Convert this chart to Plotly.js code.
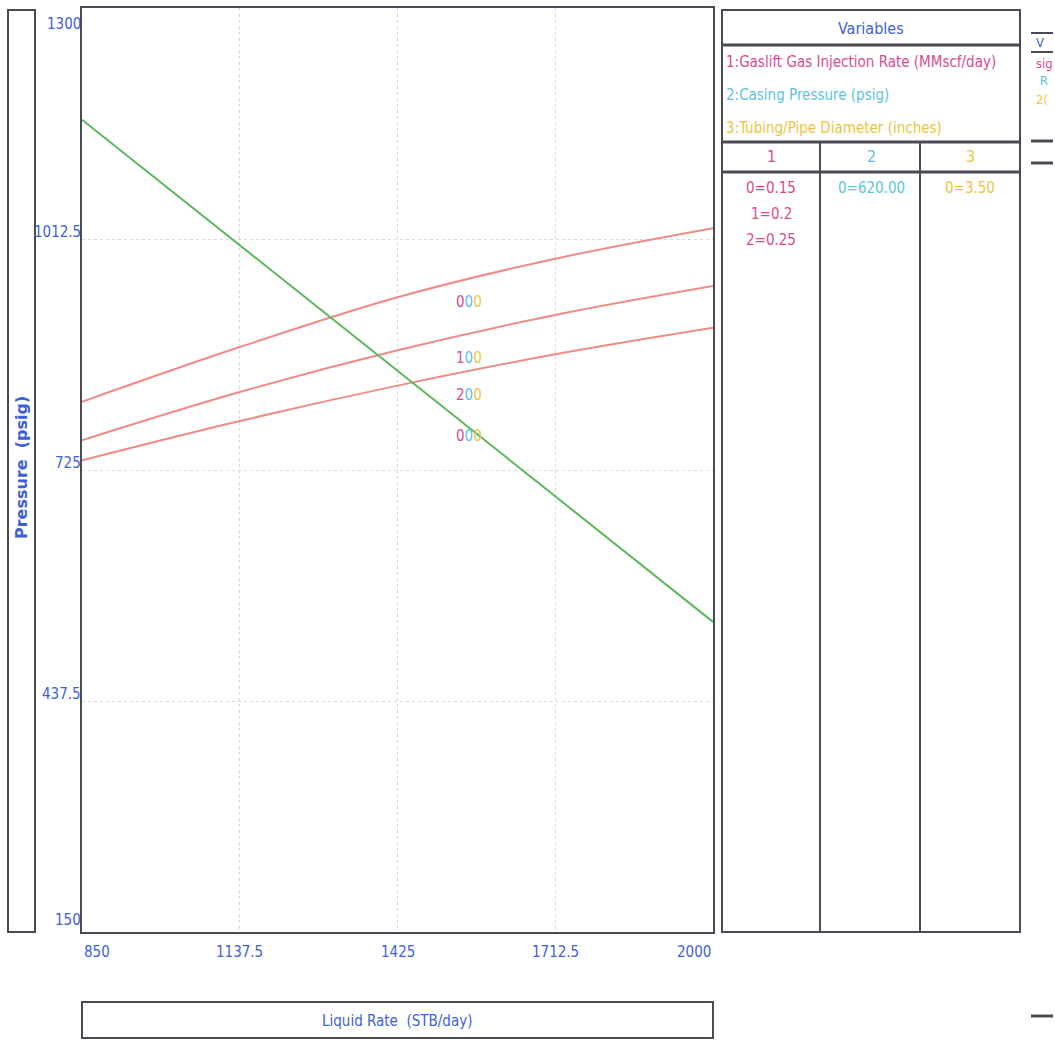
<!DOCTYPE html>
<html>
<head>
<meta charset="utf-8">
<script src="https://cdn.plot.ly/plotly-3.0.1.min.js"></script>
<style>html,body{margin:0;padding:0;background:#fff;}#chart{width:1055px;height:1041px;}</style>
</head>
<body>
<div id="chart"></div>
<script>
// ---- data ----
const liquidRate = [850, 1137.5, 1425, 1712.5, 2000];
const iprPressure = [1161, 1005, 849, 692, 536];
const gasInj015 = [810, 878, 940, 988, 1026];
const gasInj020 = [762, 822, 874, 918, 954];
const gasInj025 = [737, 786, 830, 869, 902];
const xTickVals = [850, 1137.5, 1425, 1712.5, 2000];
const xTickText = ['850', '1137.5', '1425', '1712.5', '2000'];
const yTickVals = [150, 437.5, 725, 1012.5, 1300];
const yTickText = ['150', '437.5', '725', '1012.5', '1300'];
const curveLabels = ['000', '100', '200', '000'];
const variableNames = ['1:Gaslift Gas Injection Rate (MMscf/day)', '2:Casing Pressure (psig)', '3:Tubing/Pipe Diameter (inches)'];
const columnHeads = ['1', '2', '3'];
const col1Values = ['0=0.15', '1=0.2', '2=0.25'];
const col2Values = ['0=620.00'];
const col3Values = ['0=3.50'];

// ---- styles ----
const FONT = 'Liberation Sans Narrow, DejaVu Sans Condensed, Liberation Sans, sans-serif';
const BLUE = '#3d5fdc';
const MAG = '#d94a94';
const CYAN = '#5cc3e6';
const YEL = '#e9c53e';
const FRAME = '#4a4a55';
const colColors = [MAG, CYAN, YEL];

// plot area pixels
const L = 82, R = 713, T = 8, B = 932;
const px = x => (x - L) / (R - L);
const py = y => (B - y) / (B - T);

function interp(xs, ys, x) {
  for (let i = 0; i < xs.length - 1; i++) {
    if (x >= xs[i] && x <= xs[i + 1]) {
      const t = (x - xs[i]) / (xs[i + 1] - xs[i]);
      return ys[i] + t * (ys[i + 1] - ys[i]);
    }
  }
  return ys[ys.length - 1];
}

const traces = [
  {x: liquidRate, y: gasInj015, mode: 'lines', line: {color: '#f08a86', width: 2, shape: 'spline'}, hoverinfo: 'skip'},
  {x: liquidRate, y: gasInj020, mode: 'lines', line: {color: '#f08a86', width: 2, shape: 'spline'}, hoverinfo: 'skip'},
  {x: liquidRate, y: gasInj025, mode: 'lines', line: {color: '#f08a86', width: 2, shape: 'spline'}, hoverinfo: 'skip'},
  {x: liquidRate, y: iprPressure, mode: 'lines', line: {color: '#5cb85c', width: 2}, hoverinfo: 'skip'}
];

function colored(s) {
  return s.split('').map((c, i) => `<span style="color:${colColors[i % 3]}">${c}</span>`).join('');
}

const annotations = [];
function pa(x, y, text, opts) {
  annotations.push(Object.assign({x: px(x), y: py(y), xref: 'paper', yref: 'paper', text: text, showarrow: false,
    xanchor: 'center', yanchor: 'middle', font: {family: FONT, size: 15, color: BLUE}}, opts || {}));
}

// curve labels
const labelX = 1556;
const labelCurves = [gasInj015, gasInj020, gasInj025, iprPressure];
const labelShift = [-22, -24, -24, -8];
labelCurves.forEach((c, i) => {
  annotations.push({x: labelX, y: interp(liquidRate, c, labelX), xref: 'x', yref: 'y', yshift: labelShift[i],
    text: colored(curveLabels[i]), showarrow: false, font: {family: FONT, size: 15}, xanchor: 'center', yanchor: 'middle'});
});

// y tick labels (centred a little above their grid lines; end labels inside the range)
yTickVals.forEach((v, i) => {
  const last = i === yTickVals.length - 1;
  const shift = i === 0 ? 12 : (last ? -16 : 7);
  annotations.push({x: 0, y: v, xref: 'paper', yref: 'y', text: yTickText[i], showarrow: false,
    xanchor: 'right', yanchor: 'middle', xshift: 1, yshift: shift,
    font: {family: FONT, size: 15, color: BLUE}});
});
// x tick labels
xTickVals.forEach((v, i) => {
  const anc = i === 0 ? 'left' : (i === xTickVals.length - 1 ? 'right' : 'center');
  annotations.push({x: v, y: py(952), xref: 'x', yref: 'paper', text: xTickText[i], showarrow: false,
    xanchor: anc, yanchor: 'middle', font: {family: FONT, size: 15, color: BLUE}});
});

// axis titles
pa(21, 468, '<b>Pressure  (psig)</b>', {textangle: -90, font: {family: 'DejaVu Sans, sans-serif', size: 16, color: BLUE}});
pa(397, 1021, 'Liquid Rate  (STB/day)', {font: {family: FONT, size: 15, color: BLUE}});

// table texts
pa(871, 29, 'Variables', {font: {family: FONT, size: 16, color: BLUE}});
variableNames.forEach((v, i) => pa(724, 62 + i * 33, v, {xanchor: 'left', font: {family: FONT, size: 15, color: colColors[i]}}));
const colCenters = [771, 871, 970];
columnHeads.forEach((h, i) => pa(colCenters[i], 157, h, {font: {family: FONT, size: 16, color: colColors[i]}}));
[col1Values, col2Values, col3Values].forEach((vals, c) => {
  vals.forEach((v, j) => pa(colCenters[c], 188 + j * 26, v, {font: {family: FONT, size: 15, color: colColors[c]}}));
});
// clipped fragments of a second table at the far right
[['V', BLUE, 42], ['sig', MAG, 63], ['\u00a0R', CYAN, 81], ['2(', YEL, 99]].forEach(f => {
  pa(1034, f[2], f[0], {xanchor: 'left', font: {family: FONT, size: 13, color: f[1]}});
});

function rect(x0, y0, x1, y1, w) {
  return {type: 'rect', xref: 'paper', yref: 'paper', x0: px(x0), x1: px(x1), y0: py(y0), y1: py(y1),
    line: {color: FRAME, width: w || 2}, layer: 'above'};
}
function line(x0, y0, x1, y1, w) {
  return {type: 'line', xref: 'paper', yref: 'paper', x0: px(x0), x1: px(x1), y0: py(y0), y1: py(y1),
    line: {color: FRAME, width: w || 2}, layer: 'above'};
}

const shapes = [
  rect(8, 10, 35, 932),
  rect(82, 1002, 713, 1038),
  rect(722, 10, 1020, 932),
  line(722, 45, 1020, 45, 3),
  line(722, 142, 1020, 142, 3),
  line(722, 172, 1020, 172, 3),
  line(820, 142, 820, 932),
  line(920, 142, 920, 932),
  line(1031, 33, 1053, 33),
  line(1031, 52, 1053, 52),
  line(1031, 141, 1053, 141, 3),
  line(1031, 163, 1053, 163, 3),
  line(1031, 1016, 1053, 1016, 3)
];

const layout = {
  width: 1055, height: 1041,
  margin: {l: L, r: 1055 - R, t: T, b: 1041 - B},
  paper_bgcolor: '#ffffff', plot_bgcolor: '#ffffff',
  showlegend: false,
  xaxis: {range: [850, 2000], tickvals: xTickVals, showticklabels: false, showgrid: true,
    gridcolor: '#d8d8d8', griddash: 'dot', gridwidth: 1, zeroline: false,
    showline: true, linecolor: FRAME, linewidth: 2, mirror: true, ticks: ''},
  yaxis: {range: [150, 1300], tickvals: yTickVals, showticklabels: false, showgrid: true,
    gridcolor: '#d8d8d8', griddash: 'dot', gridwidth: 1, zeroline: false,
    showline: true, linecolor: FRAME, linewidth: 2, mirror: true, ticks: ''},
  annotations: annotations,
  shapes: shapes
};

Plotly.newPlot('chart', traces, layout, {displayModeBar: false, staticPlot: true});
</script>
</body>
</html>
